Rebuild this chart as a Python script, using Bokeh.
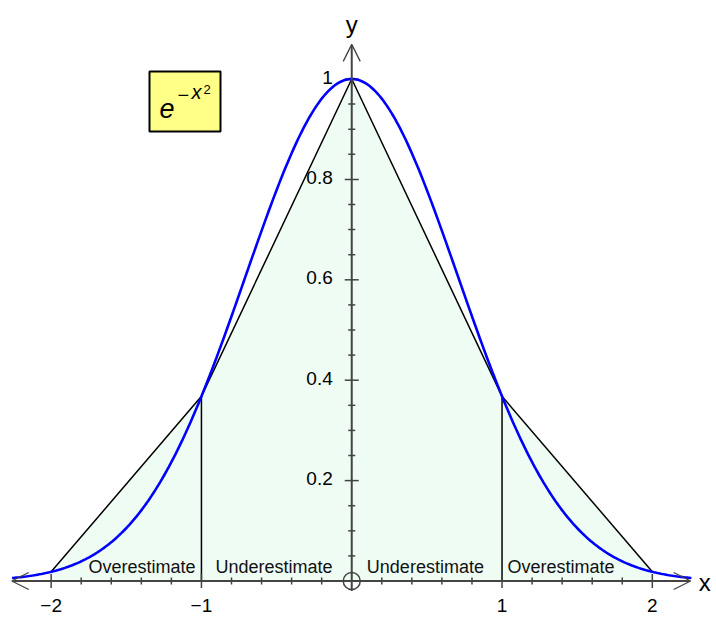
import numpy as np
from bokeh.plotting import figure
from bokeh.models import Range1d, Arrow, OpenHead, Label, BoxAnnotation
from bokeh.embed import file_html
from bokeh.resources import INLINE

# Trapezoid nodes for f(x) = e^(-x^2) on [-2, 2]
node_x = [-2, -1, 0, 1, 2]
node_y = [float(np.exp(-v * v)) for v in node_x]

# Tick positions and labels
x_major = [-2, -1, 1, 2]
x_major_labels = ["\u22122", "\u22121", "1", "2"]
x_minor = [-1.8, -1.6, -1.4, -1.2, -0.8, -0.6, -0.4, -0.2,
           0.2, 0.4, 0.6, 0.8, 1.2, 1.4, 1.6, 1.8]
y_major = [0.2, 0.4, 0.6, 0.8, 1.0]
y_major_labels = ["0.2", "0.4", "0.6", "0.8", "1"]
y_minor = [0.05, 0.1, 0.15, 0.25, 0.3, 0.35, 0.45, 0.5, 0.55,
           0.65, 0.7, 0.75, 0.85, 0.9, 0.95]

# Region annotations
region_labels = ["Overestimate", "Underestimate", "Underestimate", "Overestimate"]
region_x = [-1.395, -0.517, 0.49, 1.392]

FONT = "Liberation Sans"
AXIS = "#444444"

p = figure(width=716, height=617, output_backend="svg", toolbar_location=None,
           x_range=Range1d(-2.337, 2.427), y_range=Range1d(-0.0727, 1.1564),
           min_border=0, outline_line_color=None, background_fill_color="white",
           border_fill_color="white")
p.axis.visible = False
p.grid.visible = False

# Shaded trapezoid area
p.varea(x=node_x, y1=[0] * len(node_x), y2=node_y, fill_color="#eefcf3")

# Trapezoid edges and the interior verticals
p.line(node_x, node_y, line_color="black", line_width=1.5)
for xv, yv in zip(node_x, node_y):
    if xv in (-1, 1):
        p.segment(x0=[xv], y0=[0], x1=[xv], y1=[yv], line_color="black", line_width=1.5)

# Axes with arrowheads
head = dict(size=17, line_color=AXIS, line_width=1.3)
p.add_layout(Arrow(x_start=-2.262, y_start=0, x_end=2.255, y_end=0,
                   start=OpenHead(**head), end=OpenHead(**head),
                   line_color=AXIS, line_width=2))
p.add_layout(Arrow(x_start=0, y_start=-0.02, x_end=0, y_end=1.069,
                   end=OpenHead(**head), line_color=AXIS, line_width=2))

# Ticks
p.scatter(x=x_major, y=[0] * len(x_major), marker="dash", size=14, angle=np.pi / 2,
          line_color=AXIS, line_width=1.5)
p.scatter(x=x_minor, y=[0] * len(x_minor), marker="dash", size=7, angle=np.pi / 2,
          line_color=AXIS, line_width=1.5)
p.scatter(x=[0] * len(y_major), y=y_major, marker="dash", size=14,
          line_color=AXIS, line_width=1.5)
p.scatter(x=[0] * len(y_minor), y=y_minor, marker="dash", size=7,
          line_color=AXIS, line_width=1.5)
p.scatter(x=[0], y=[0], marker="circle", size=17, fill_color=None,
          line_color=AXIS, line_width=1.5)

# The function curve
cx = np.linspace(-2.26, 2.26, 400)
p.line(cx, np.exp(-cx ** 2), line_color="#0000ff", line_width=2.6)

# Tick labels
for xv, lab in zip(x_major, x_major_labels):
    p.add_layout(Label(x=xv, y=0, text=lab, text_align="center", text_baseline="alphabetic",
                       y_offset=-24.5, text_font=FONT, text_font_size="19px",
                       text_color="black"))
for yv, lab in zip(y_major, y_major_labels):
    p.add_layout(Label(x=0, y=yv, text=lab, text_align="right", text_baseline="middle",
                       x_offset=-19, y_offset=2, text_font=FONT, text_font_size="19px",
                       text_color="black"))

# Axis names
p.add_layout(Label(x=2.255, y=0, text="x", x_offset=8, y_offset=-1, text_font=FONT,
                   text_font_size="24px", text_baseline="alphabetic", text_color="black"))
p.add_layout(Label(x=0, y=1.069, text="y", text_align="center", y_offset=20,
                   text_font=FONT, text_font_size="24px", text_baseline="alphabetic",
                   text_color="black"))

# Region labels
for xv, lab in zip(region_x, region_labels):
    p.add_layout(Label(x=xv, y=0, text=lab, text_align="center", text_baseline="alphabetic",
                       y_offset=14.5, text_font=FONT, text_font_size="18px",
                       text_color="#111111"))

# Formula box
p.add_layout(BoxAnnotation(left=149, right=220, top=546, bottom=486,
                           left_units="screen", right_units="screen",
                           top_units="screen", bottom_units="screen",
                           fill_color="#ffff88", fill_alpha=1.0,
                           line_color="black", line_width=2, line_alpha=1.0))
H = 617
p.add_layout(Label(x=159, y=H - 108, x_units="screen", y_units="screen", text="e",
                   text_font=FONT, text_font_style="italic", text_font_size="27px",
                   text_baseline="alphabetic", text_color="black"))
p.add_layout(Label(x=177, y=H - 94, x_units="screen", y_units="screen", text="\u2212",
                   text_font=FONT, text_font_size="20px",
                   text_baseline="alphabetic", text_color="black"))
p.add_layout(Label(x=191, y=H - 91, x_units="screen", y_units="screen", text="x",
                   text_font=FONT, text_font_style="italic", text_font_size="20px",
                   text_baseline="alphabetic", text_color="black"))
p.add_layout(Label(x=203, y=H - 89, x_units="screen", y_units="screen", text="2",
                   text_font=FONT, text_font_size="13px",
                   text_baseline="alphabetic", text_color="black"))

open("out.html", "w").write(file_html(p, INLINE))
